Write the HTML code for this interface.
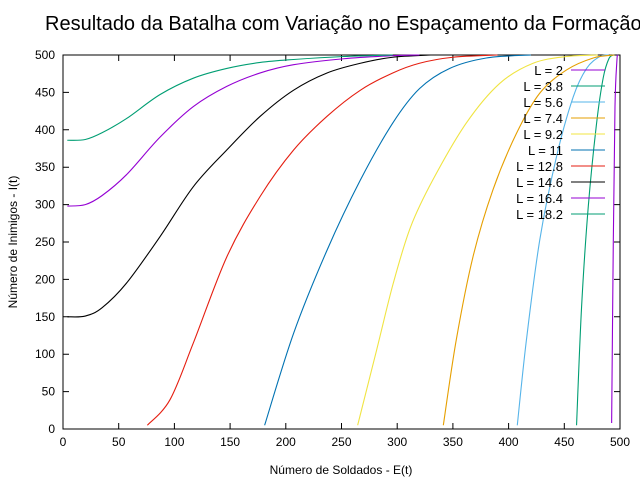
<!DOCTYPE html>
<html><head><meta charset="utf-8"><style>
body{margin:0;background:#fff;}
svg text{font-family:"Liberation Sans",sans-serif;}
</style></head><body>
<svg id="chart" width="640" height="480" viewBox="0 0 640 480" xmlns="http://www.w3.org/2000/svg">
<text x="45" y="30" font-size="20">Resultado da Batalha com Variação no Espaçamento da Formação</text>
<g id="axes"></g>
<g id="series"></g>
<g id="legend"></g>
<text x="341" y="474" font-size="12" text-anchor="middle">Número de Soldados - E(t)</text>
<text transform="translate(17,242) rotate(-90)" font-size="12" text-anchor="middle">Número de Inimigos - I(t)</text>
</svg>
<script>
const xTicks = [0,50,100,150,200,250,300,350,400,450,500];
const yTicks = [0,50,100,150,200,250,300,350,400,450,500];
const labels = ["L = 2","L = 3.8","L = 5.6","L = 7.4","L = 9.2","L = 11","L = 12.8","L = 14.6","L = 16.4","L = 18.2"];
const colors = ["#9400d3","#009e73","#56b4e9","#e69f00","#f0e442","#0072b2","#e51e10","#000000","#9400d3","#009e73"];
const sL2 = [[492.5,8],[494,253],[495.5,431],[497.2,492],[498,500]];
const sL38 = [[461,5],[465.5,163],[471.5,297],[479,409],[485,470],[490,495],[494,500]];
const sL56 = [[407.8,5],[416,119],[428,253],[443,364],[458,444],[470,482],[482,498],[490,500]];
const sL74 = [[341.4,5],[353,119],[368,230],[386,320],[407,395],[428,449],[452,480],[476,496],[495,500]];
const sL92 = [[264.5,5],[281.6,106],[296.5,195],[312,270],[332,333],[362,409],[392,462],[422,489],[452,498],[480,500]];
const sL11 = [[181,5],[207,128],[237,239],[267,333],[296,409],[320,455],[347,482],[380,496],[420,500]];
const sL128 = [[75.7,5],[96,39],[117,115],[147,230],[177,311],[207,373],[237,418],[267,453],[296,476],[320,489],[350,497],[390,500]];
const sL146 = [[3.9,150],[20,151],[35,162],[57,195],[87,257],[117,324],[147,373],[177,418],[207,453],[237,476],[267,489],[296,497],[330,500]];
const sL164 = [[3.9,298],[20,300],[35,312],[57,340],[87,390],[117,431],[147,458],[177,476],[207,487],[252,495],[294,499],[320,500]];
const sL182 = [[3.9,386],[20,387],[35,396],[57,415],[87,447],[117,469],[147,482],[177,490],[207,494],[252,498],[296,500]];
const seriesList = [sL2,sL38,sL56,sL74,sL92,sL11,sL128,sL146,sL164,sL182];

const NS="http://www.w3.org/2000/svg";
const L=63,R=620,T=55,B=429;
const xs=v=>L+(v-0)/500*(R-L);
const ys=v=>B-(v-0)/500*(B-T);
function mk(tag,attrs,parent){const e=document.createElementNS(NS,tag);for(const k in attrs)e.setAttribute(k,attrs[k]);parent.appendChild(e);return e;}
function smooth(pts){
  let d='M'+pts[0][0].toFixed(2)+','+pts[0][1].toFixed(2);
  for(let i=0;i<pts.length-1;i++){
    const p0=pts[Math.max(0,i-1)],p1=pts[i],p2=pts[i+1],p3=pts[Math.min(pts.length-1,i+2)];
    const c1=[p1[0]+(p2[0]-p0[0])/6,p1[1]+(p2[1]-p0[1])/6];
    const c2=[p2[0]-(p3[0]-p1[0])/6,p2[1]-(p3[1]-p1[1])/6];
    d+='C'+c1[0].toFixed(2)+','+c1[1].toFixed(2)+' '+c2[0].toFixed(2)+','+c2[1].toFixed(2)+' '+p2[0].toFixed(2)+','+p2[1].toFixed(2);
  }
  return d;
}
const axes=document.getElementById('axes');
const frame=mk('rect',{x:L,y:T,width:R-L,height:B-T,fill:'none',stroke:'#000','stroke-width':1},axes);


xTicks.forEach(v=>{
  const x=xs(v);
  const t=mk('path',{d:`M${x},${B}v-6M${x},${T}v6`,stroke:'#000'},axes);
  
  
  const tx=mk('text',{x:x,y:B+17,'font-size':12,'text-anchor':'middle'},axes);
  tx.textContent=v;
  
  
});
yTicks.forEach(v=>{
  const y=ys(v);
  const t=mk('path',{d:`M${L},${y}h6M${R},${y}h-6`,stroke:'#000'},axes);
  
  
  const tx=mk('text',{x:L-8,y:y+4,'font-size':12,'text-anchor':'end'},axes);
  tx.textContent=v;
  
  
});
const sg=document.getElementById('series');
seriesList.forEach((s,i)=>{
  const pts=s.map(p=>[xs(p[0]),ys(p[1])]);
  const p=mk('path',{d:smooth(pts),fill:'none',stroke:colors[i],'stroke-width':1.1,'stroke-linejoin':'round'},sg);
  
  
});
const lg=document.getElementById('legend');
labels.forEach((lab,i)=>{
  const y=70+i*16;
  const tx=mk('text',{x:563,y:y+5,'font-size':13,'text-anchor':'end'},lg);
  tx.textContent=lab;
  
  
  const ln=mk('line',{x1:571,x2:605,y1:y,y2:y,stroke:colors[i],'stroke-width':1.1},lg);
  
  
});
</script>
</body></html>
